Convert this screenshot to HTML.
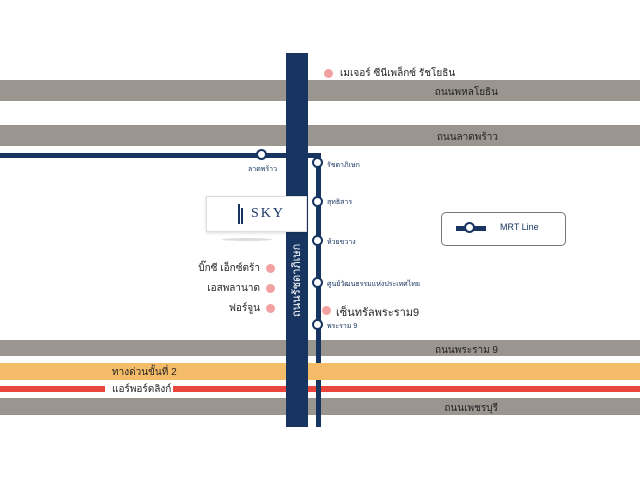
<!DOCTYPE html>
<html><head><meta charset="utf-8"><style>
body{margin:0;width:640px;height:480px;background:#fff;position:relative;overflow:hidden;font-family:"Liberation Sans","Noto Sans CJK SC",sans-serif}
div{position:absolute}
.road{left:0;width:640px;background:#9b9590}
.rl{right:142px;font-size:10px;color:#222;white-space:nowrap}
.st{width:7px;height:7px;border:2.5px solid #173560;border-radius:50%;background:#fff}
.sl{font-size:7px;color:#173560;white-space:nowrap}
.pk{width:9px;height:9px;border-radius:50%;background:#f2a0a0}
.pl{font-size:10px;color:#222;white-space:nowrap}
.pr{right:380px;font-size:10px;color:#222;white-space:nowrap}
</style></head><body>
<div class="road" style="top:80px;height:21px"></div>
<div class="road" style="top:125px;height:21px"></div>
<div class="road" style="top:340px;height:16px"></div>
<div style="left:0;top:363px;width:640px;height:17px;background:#f4bb68"></div>
<div style="left:0;top:386px;width:640px;height:6px;background:#e8453c"></div>
<div style="left:105px;top:383px;width:68px;height:12px;background:#fff"></div>
<div class="road" style="top:398px;height:17px"></div>
<div style="left:316px;top:155px;width:5px;height:208px;background:#173560"></div>
<div style="left:316px;top:380px;width:5px;height:47px;background:#173560"></div>
<div style="left:0;top:153px;width:321px;height:5px;background:#173560"></div>
<div style="left:286px;top:53px;width:22px;height:374px;background:#173560"></div>
<div style="left:288px;top:225px;width:18px;height:110px;color:#fff;font-size:11px;writing-mode:vertical-rl;transform:rotate(180deg);text-align:center">ถนนรัชดาภิเษก</div>
<div class="rl" style="top:85px">ถนนพหลโยธิน</div>
<div class="rl" style="top:130px">ถนนลาดพร้าว</div>
<div class="rl" style="top:343px">ถนนพระราม 9</div>
<div class="rl" style="top:401px">ถนนเพชรบุรี</div>
<div style="left:112px;top:365px;font-size:10px;color:#222">ทางด่วนขั้นที่ 2</div>
<div style="left:112px;top:382px;font-size:10px;color:#222">แอร์พอร์ตลิงก์</div>
<div class="pk" style="left:324px;top:69px"></div><div class="pl" style="left:340px;top:66px">เมเจอร์ ซีนีเพล็กซ์ รัชโยธิน</div>
<div class="st" style="left:256px;top:149px"></div><div class="sl" style="left:248px;top:164px">ลาดพร้าว</div>
<div class="st" style="left:312px;top:157px"></div><div class="sl" style="left:327px;top:160px">รัชดาภิเษก</div>
<div class="st" style="left:312px;top:196px"></div><div class="sl" style="left:327px;top:197px">สุทธิสาร</div>
<div class="st" style="left:312px;top:235px"></div><div class="sl" style="left:327px;top:237px">ห้วยขวาง</div>
<div class="st" style="left:312px;top:277px"></div><div class="sl" style="left:327px;top:279px">ศูนย์วัฒนธรรมแห่งประเทศไทย</div>
<div class="st" style="left:312px;top:319px"></div><div class="sl" style="left:327px;top:321px">พระราม 9</div>
<div class="pk" style="left:322px;top:306px"></div><div class="pl" style="left:336px;top:303px;font-size:11px">เซ็นทรัลพระราม9</div>
<div class="pk" style="left:266px;top:264px"></div><div class="pr" style="top:261px">บิ๊กซี เอ็กซ์ตร้า</div>
<div class="pk" style="left:266px;top:284px"></div><div class="pr" style="top:281px">เอสพลานาด</div>
<div class="pk" style="left:266px;top:304px"></div><div class="pr" style="top:301px">ฟอร์จูน</div>
<div style="left:206px;top:196px;width:99px;height:34px;background:#fff;border:1px solid #ddd;box-shadow:0 1px 3px rgba(0,0,0,.15)"></div>
<div style="left:222px;top:238px;width:50px;height:3px;background:#ddd;border-radius:50%"></div>
<div style="left:238px;top:204px;width:2px;height:20px;background:#173560"></div>
<div style="left:241px;top:208px;width:2px;height:16px;background:#173560"></div>
<div style="left:251px;top:206px;font-family:'Liberation Serif',serif;font-size:14px;color:#173560;letter-spacing:2px">SKY</div>
<div style="left:441px;top:212px;width:123px;height:32px;border:1px solid #777;border-radius:5px;background:#fff"></div>
<div style="left:456px;top:226px;width:30px;height:5px;background:#173560"></div>
<div class="st" style="left:464px;top:222px"></div>
<div style="left:500px;top:222px;font-size:9px;color:#173560">MRT Line</div>
</body></html>
